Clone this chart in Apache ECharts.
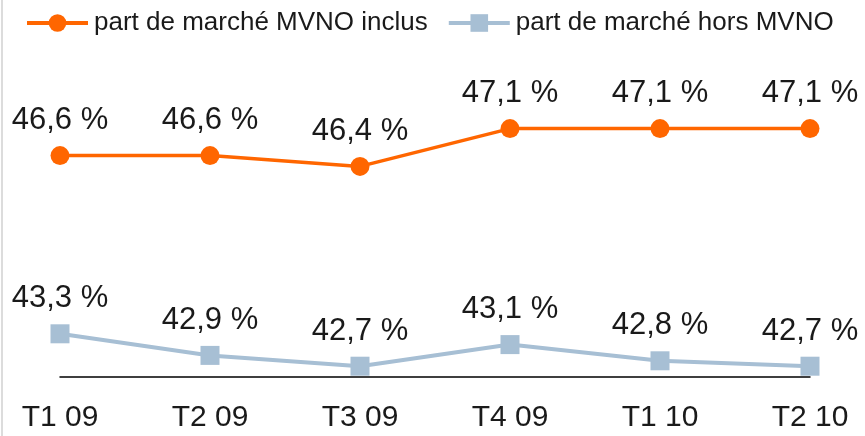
<!DOCTYPE html>
<html>
<head>
<meta charset="utf-8">
<script src="https://cdn.jsdelivr.net/npm/echarts@6/dist/echarts.min.js"></script>
<style>
  html, body { margin: 0; padding: 0; background: #fff; }
  #chart { width: 865px; height: 436px; }
</style>
</head>
<body>
<div id="chart"></div>
<script>
// données
const categories = ["T1 09", "T2 09", "T3 09", "T4 09", "T1 10", "T2 10"];
const avecMvno = [46.6, 46.6, 46.4, 47.1, 47.1, 47.1];
const horsMvno = [43.3, 42.9, 42.7, 43.1, 42.8, 42.7];
const seriesNames = ["part de marché MVNO inclus", "part de marché hors MVNO"];

const chart = echarts.init(document.getElementById("chart"));
const font = "'Liberation Sans', Arial, Helvetica, sans-serif";

const fmt = (p) => p.value.toFixed(1).replace(".", ",") + " %";

chart.setOption({
  animation: false,
  textStyle: { fontFamily: font },
  graphic: [
    {
      type: "rect",
      shape: { x: 1, y: 0, width: 2, height: 436 },
      style: { fill: "#dcdcdc" },
    },
  ],
  legend: {
    top: 5,
    left: 20,
    itemWidth: 61,
    itemHeight: 22,
    itemGap: 19,
    lineStyle: { width: 4 },
    textStyle: { fontSize: 26, color: "#1a1a1a", fontFamily: font, padding: [0, 0, 0, 1] },
    data: seriesNames,
  },
  grid: {
    left: 60,
    right: 55,
    top: 39.5,
    bottom: 59,
  },
  xAxis: {
    type: "category",
    boundaryGap: false,
    data: categories,
    axisLine: { lineStyle: { color: "#000", width: 1.5 } },
    axisTick: { show: false },
    axisLabel: { fontSize: 30, color: "#1a1a1a", margin: 26, fontFamily: font },
  },
  yAxis: {
    type: "value",
    min: 42.5,
    max: 48.75,
    show: false,
    splitLine: { show: false },
  },
  series: [
    {
      name: seriesNames[0],
      type: "line",
      data: avecMvno,
      symbol: "circle",
      symbolSize: 19,
      itemStyle: { color: "#ff6600" },
      lineStyle: { color: "#ff6600", width: 3.5 },
      label: {
        show: true,
        position: "top",
        distance: 10,
        fontSize: 31,
        color: "#1a1a1a",
        fontFamily: font,
        formatter: fmt,
      },
    },
    {
      name: seriesNames[1],
      type: "line",
      data: horsMvno,
      symbol: "rect",
      symbolSize: 19,
      itemStyle: { color: "#a7bfd4" },
      lineStyle: { color: "#a7bfd4", width: 4 },
      label: {
        show: true,
        position: "top",
        distance: 10,
        fontSize: 31,
        color: "#1a1a1a",
        fontFamily: font,
        formatter: fmt,
      },
    },
  ],
});
</script>
</body>
</html>
